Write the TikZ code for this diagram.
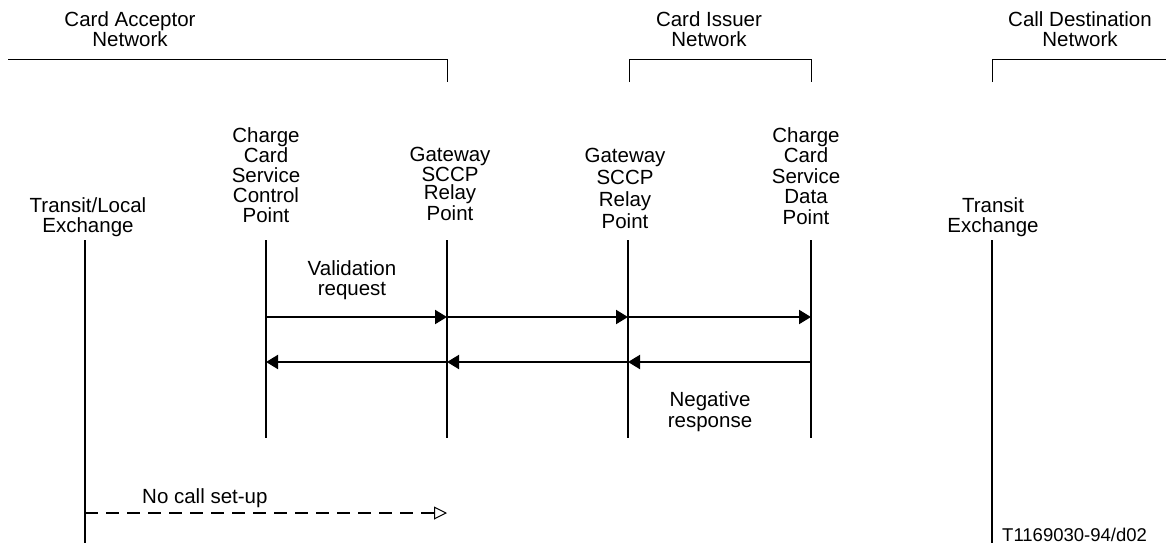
\documentclass[tikz,border=0pt]{standalone}
\usepackage{fontspec}
\setmainfont{Liberation Sans}
\usetikzlibrary{arrows.meta}
\begin{document}
\begin{tikzpicture}[x=1pt,y=-1pt,
  lbl/.style={font=\fontsize{20.5}{20}\selectfont, align=center, inner sep=0pt, anchor=base},
  bracket/.style={line width=1pt},
  life/.style={line width=2pt},
  msg/.style={line width=2pt, -{Triangle[length=12pt,width=14pt]}},
  nocall/.style={line width=1.8pt, dash pattern=on 13pt off 8pt,
    -{Triangle[open,length=13pt,width=13pt,line width=1pt]}}]
\useasboundingbox (0,0) rectangle (1166,543);

% network headers (anchor = baseline of the last line)
\node[lbl] (hacc) at (130,47) {Card Acceptor\\Network};
\node[lbl] (hiss) at (709,47) {Card Issuer\\Network};
\node[lbl] (hdst) at (1080,47) {Call Destination\\Network};
\draw[bracket] (8,60) -- (447,60) -- (447,82);
\draw[bracket] (629,82) -- (629,60) -- (811,60) -- (811,82);
\draw[bracket] (992,82) -- (992,60) -- (1166,60);

% entity labels
\node[lbl] (tl)  at (88,232) {Transit/Local\\Exchange};
\node[lbl] (scp) at (266,222.5) {Charge\\Card\\Service\\Control\\Point};
\node[lbl, font=\fontsize{20.5}{18.5}\selectfont] (gw1) at (450,220) {Gateway\\SCCP\\Relay\\Point};
\node[lbl, font=\fontsize{20.5}{22}\selectfont] (gw2) at (625,228.5) {Gateway\\SCCP\\Relay\\Point};
\node[lbl, font=\fontsize{20.5}{20.5}\selectfont] (sdp) at (806,224) {Charge\\Card\\Service\\Data\\Point};
\node[lbl] (te)  at (993,232) {Transit\\Exchange};

% lifelines
\coordinate (tlT) at (85,240);   \coordinate (tlB) at (85,543);
\coordinate (scpT) at (266,240); \coordinate (scpB) at (266,438);
\coordinate (gw1T) at (447,240); \coordinate (gw1B) at (447,438);
\coordinate (gw2T) at (628,240); \coordinate (gw2B) at (628,438);
\coordinate (sdpT) at (811,240); \coordinate (sdpB) at (811,438);
\coordinate (teT) at (992,240);  \coordinate (teB) at (992,543);
\foreach \l in {tl,scp,gw1,gw2,sdp,te} \draw[life] (\l T) -- (\l B);

% validation request
\coordinate (scpR) at (266,317); \coordinate (gw1R) at (447,317);
\coordinate (gw2R) at (628,317); \coordinate (sdpR) at (811,317);
\draw[msg] (scpR) -- (gw1R);
\draw[msg] (gw1R) -- (gw2R);
\draw[msg] (gw2R) -- (sdpR);
\node[lbl, font=\fontsize{20.5}{19.5}\selectfont] (vreq) at (352,295) {Validation\\request};

% negative response
\coordinate (scpN) at (266,362); \coordinate (gw1N) at (447,362);
\coordinate (gw2N) at (628,362); \coordinate (sdpN) at (811,362);
\draw[msg] (sdpN) -- (gw2N);
\draw[msg] (gw2N) -- (gw1N);
\draw[msg] (gw1N) -- (scpN);
\node[lbl, font=\fontsize{20.5}{21}\selectfont] (nresp) at (710,427) {Negative\\response};

% no call set-up
\coordinate (ncS) at (85,513); \coordinate (ncE) at (447,513);
\draw[nocall] (ncS) -- (ncE);
\node[lbl, anchor=base west] (nclbl) at (142,503) {No call set-up};

% figure reference
\node[lbl, anchor=base west, font=\fontsize{18.5}{18}\selectfont] (ref) at (1002,541) {T1169030-94/d02};
\end{tikzpicture}
\end{document}
